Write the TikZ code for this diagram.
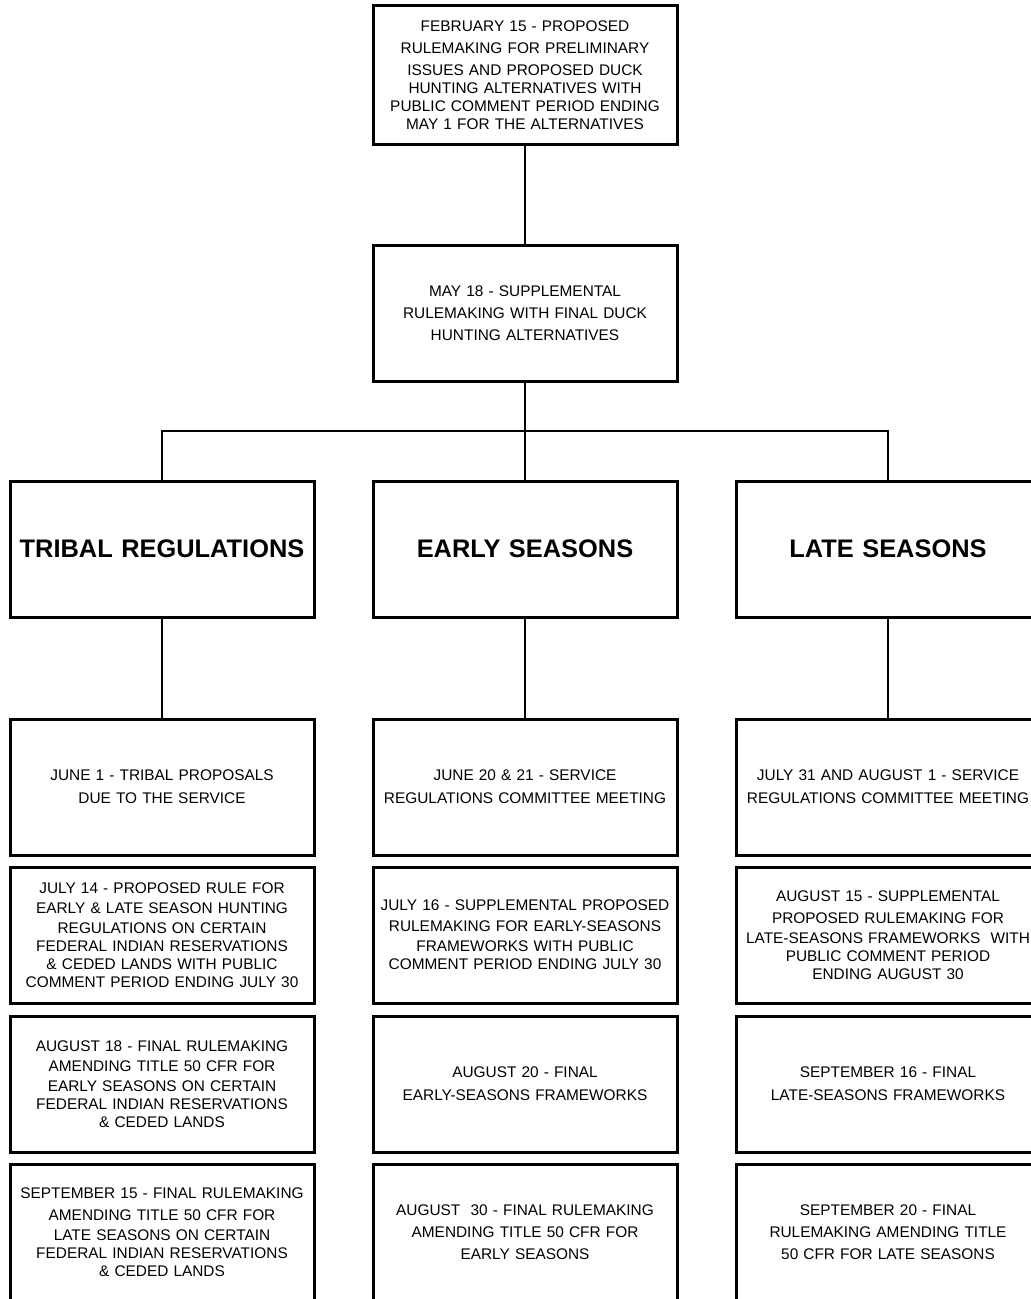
\documentclass[tikz,border=0pt]{standalone}
\usepackage{fontspec}
\setmainfont{Liberation Sans}
\begin{document}
\begin{tikzpicture}[x=0.5pt, y=-0.5pt]
        \tikzstyle{every node}=[draw, line width=1.5pt, inner sep=1pt, text width=150pt, align=center, minimum height=68pt, font=\fontsize{7.7}{9}\selectfont]
        \tikzstyle{head}=[font=\fontsize{12.7}{15}\selectfont\bfseries]
        \tikzstyle{link}=[line width=0.75pt]
        \useasboundingbox (0,0) rectangle (1031,1299);
        \clip (0,0) rectangle (1031,1299);
        % proposals
        \node (feb) at (525,75.5) [minimum height=69.5pt] {FEBRUARY 15 - PROPOSED\\[2pt] RULEMAKING FOR PRELIMINARY\\[2pt] ISSUES AND PROPOSED DUCK\\ HUNTING ALTERNATIVES WITH\\ PUBLIC COMMENT PERIOD ENDING\\ MAY 1 FOR THE ALTERNATIVES};
        \node (may) at (525,313.5) {MAY 18 - SUPPLEMENTAL\\[2pt] RULEMAKING WITH FINAL DUCK\\[2pt] HUNTING ALTERNATIVES};
        \coordinate (bar) at (525,431);
        % seasons
        \node (tribal) at (162,549) [head] {TRIBAL REGULATIONS};
        \node (early) at (525,549) [head] {EARLY SEASONS};
        \node (late) at (888,549) [head] {LATE SEASONS};
        % tribal column
        \node (trib1) at (162,787) {JUNE 1 - TRIBAL PROPOSALS\\[2.5pt] DUE TO THE SERVICE};
        \node (trib2) at (162,935) {JULY 14 - PROPOSED RULE FOR\\[1pt] EARLY \& LATE SEASON HUNTING\\[1pt] REGULATIONS ON CERTAIN\\ FEDERAL INDIAN RESERVATIONS\\ \& CEDED LANDS WITH PUBLIC\\ COMMENT PERIOD ENDING JULY 30};
        \node (trib3) at (162,1084) {AUGUST 18 - FINAL RULEMAKING\\[1pt] AMENDING TITLE 50 CFR FOR\\[1pt] EARLY SEASONS ON CERTAIN\\ FEDERAL INDIAN RESERVATIONS\\ \& CEDED LANDS};
        \node (trib4) at (162,1232) {SEPTEMBER 15 - FINAL RULEMAKING\\[2pt] AMENDING TITLE 50 CFR FOR\\[1pt] LATE SEASONS ON CERTAIN\\ FEDERAL INDIAN RESERVATIONS\\ \& CEDED LANDS};
        % early column
        \node (early1) at (525,787) {JUNE 20 \& 21 - SERVICE\\[2.5pt] REGULATIONS COMMITTEE MEETING};
        \node (early2) at (525,935) {JULY 16 - SUPPLEMENTAL PROPOSED\\[1.5pt] RULEMAKING FOR EARLY-SEASONS\\[1pt] FRAMEWORKS WITH PUBLIC\\ COMMENT PERIOD ENDING JULY 30};
        \node (early3) at (525,1084) {AUGUST 20 - FINAL\\[2.5pt] EARLY-SEASONS FRAMEWORKS};
        \node (early4) at (525,1232) {AUGUST \ 30 - FINAL RULEMAKING\\[2pt] AMENDING TITLE 50 CFR FOR\\[2pt] EARLY SEASONS};
        % late column
        \node (late1) at (888,787) {JULY 31 AND AUGUST 1 - SERVICE\\[2.5pt] REGULATIONS COMMITTEE MEETING};
        \node (late2) at (888,935) {AUGUST 15 - SUPPLEMENTAL\\[2pt] PROPOSED RULEMAKING FOR\\[1pt] LATE-SEASONS FRAMEWORKS \ WITH\\ PUBLIC COMMENT PERIOD\\ ENDING AUGUST 30};
        \node (late3) at (888,1084) {SEPTEMBER 16 - FINAL\\[2.5pt] LATE-SEASONS FRAMEWORKS};
        \node (late4) at (888,1232) {SEPTEMBER 20 - FINAL\\[2pt] RULEMAKING AMENDING TITLE\\[2pt] 50 CFR FOR LATE SEASONS};
        % connectors
        \draw [link] (feb) -- (may);
        \draw [link] (may) -- (bar);
        \draw [link] (tribal.north) |- (bar) -| (late.north);
        \draw [link] (bar) -- (early);
        \draw [link] (tribal) -- (trib1);
        \draw [link] (early) -- (early1);
        \draw [link] (late) -- (late1);
    \end{tikzpicture}
\end{document}
